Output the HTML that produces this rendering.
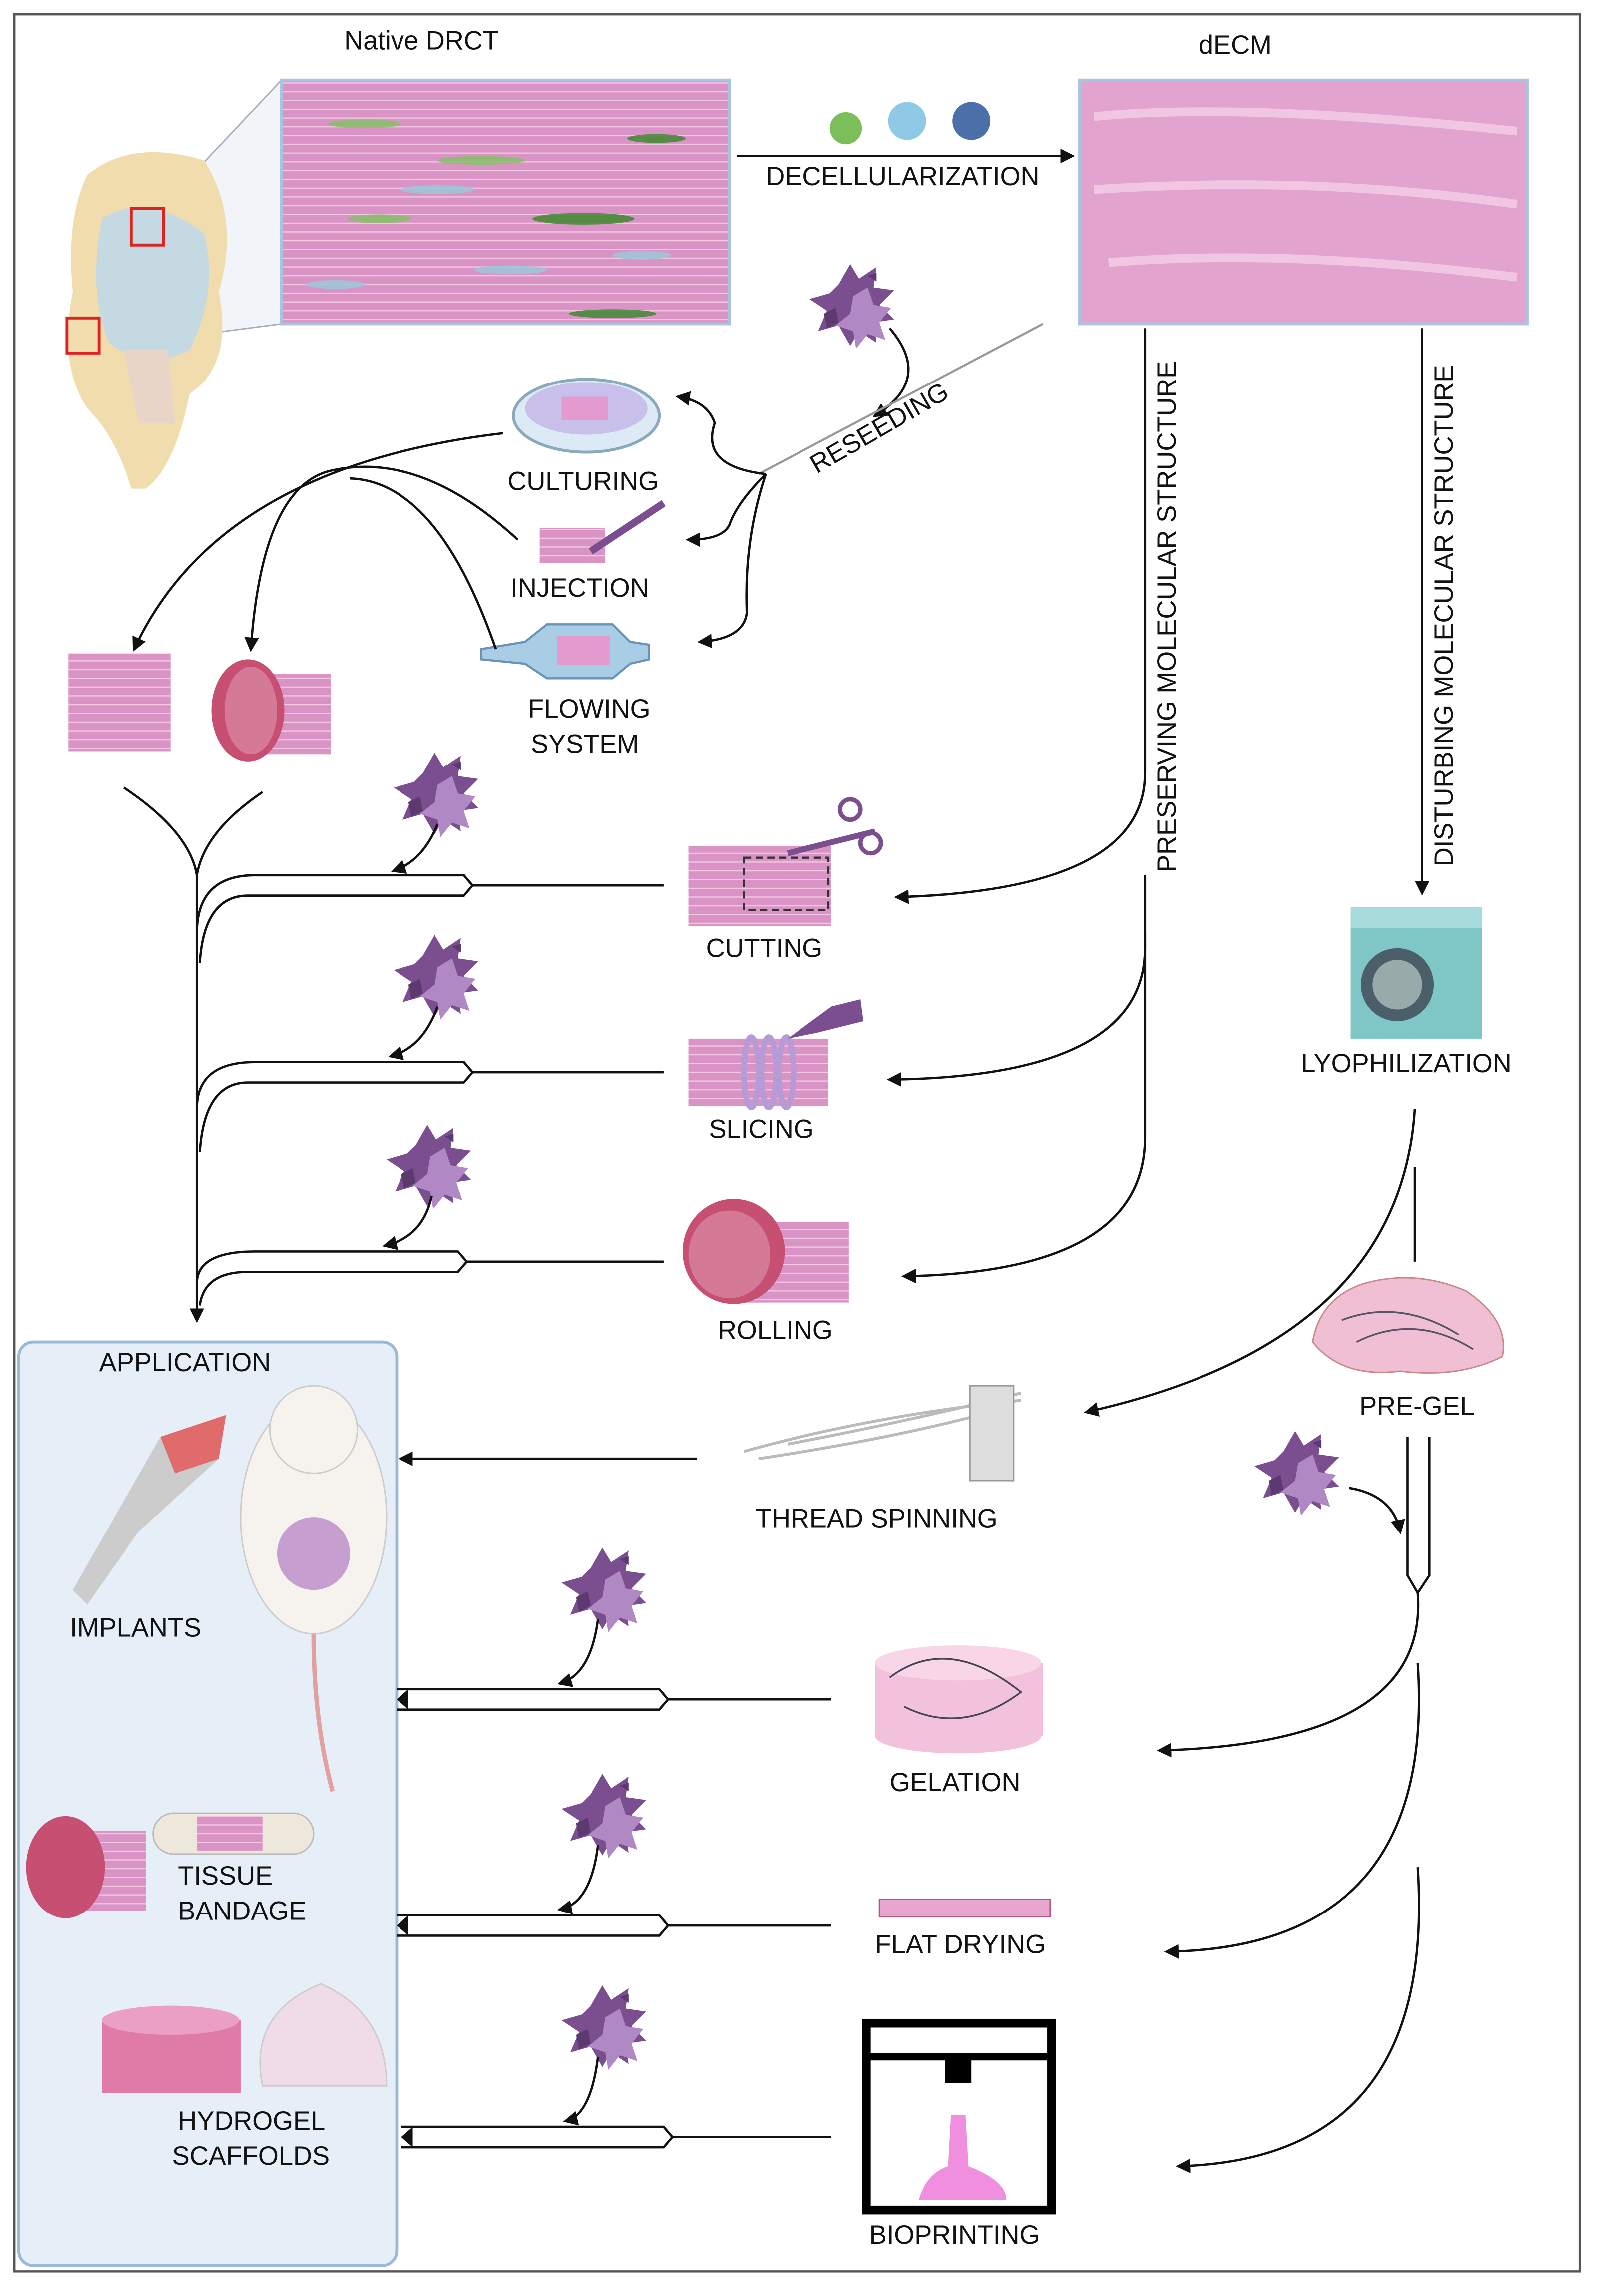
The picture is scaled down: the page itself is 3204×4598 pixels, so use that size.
<!DOCTYPE html>
<html><head><meta charset="utf-8"><style>
html,body{margin:0;padding:0;background:#fff;}
svg{display:block;}
text{font-family:"Liberation Sans",Arial,sans-serif;fill:#111;}
</style></head><body>
<svg width="3204" height="4598" viewBox="0 0 1097 1574" preserveAspectRatio="none" xmlns="http://www.w3.org/2000/svg">
<defs>
<marker id="ah" markerWidth="10" markerHeight="10" refX="8" refY="5" orient="auto" markerUnits="userSpaceOnUse"><path d="M0,0 L10,5 L0,10 z" fill="#111"/></marker>
<g id="cells">
<path d="M0,0 l8,-14 l6,10 l12,-8 l-2,14 l14,2 l-10,10 l10,10 l-14,2 l2,14 l-12,-8 l-6,10 l-8,-14 l-14,4 l6,-14 l-12,-8 l14,-4z" fill="#7a4e8f"/>
<path d="M10,8 l10,-6 l4,12 l12,2 l-8,10 l4,12 l-12,-4 l-8,10 l-2,-12 l-12,-4 l10,-8z" fill="#b088c4"/>
<path d="M-10,20 l8,-4 l2,10 l-8,4z M20,-6 l6,-2 l0,6z" fill="#5c3a70"/>
</g>
<g id="pen">
<path d="M0,0 H180 L186,7 L180,14 H0" fill="none" stroke="#111" stroke-width="1.6"/>
</g>
<pattern id="fib" width="40" height="6" patternUnits="userSpaceOnUse"><rect width="40" height="6" fill="#d993c4"/><line x1="0" y1="3" x2="40" y2="3" stroke="#f2c8e3" stroke-width="0.8"/></pattern>
</defs>

<rect x="10" y="10" width="1073" height="1547" fill="#fff" stroke="#555" stroke-width="1.5"/>

<!-- Top -->
<text x="236" y="34" font-size="18">Native DRCT</text>
<text x="822" y="37" font-size="18">dECM</text>
<polygon points="110,143 193,55 193,222 56,240" fill="#eef2f8" opacity="0.8"/>
<line x1="110" y1="143" x2="193" y2="55" stroke="#aab" stroke-width="1"/>
<line x1="56" y1="240" x2="193" y2="222" stroke="#aab" stroke-width="1"/>
<!-- knee -->
<path d="M60,120 Q90,95 140,110 Q165,150 150,200 Q160,250 130,270 Q120,320 100,335 L90,335 Q80,300 60,280 Q40,250 50,200 Q45,150 60,120z" fill="#f1dcae"/>
<path d="M70,150 Q100,130 140,160 Q150,200 130,240 Q100,255 75,235 Q60,200 70,150z" fill="#bcd8ea" opacity="0.85"/>
<path d="M85,240 L95,290 L120,290 L115,240z" fill="#e8d5c8"/>
<rect x="90" y="143" width="22" height="25" fill="none" stroke="#d22" stroke-width="2"/>
<rect x="46" y="218" width="22" height="24" fill="none" stroke="#d22" stroke-width="2"/>
<!-- native tissue -->
<rect x="193" y="55" width="307" height="167" fill="url(#fib)" stroke="#a9c4e0" stroke-width="2"/>
<g fill="#86c06a" opacity="0.85">
<ellipse cx="250" cy="85" rx="25" ry="3"/><ellipse cx="330" cy="110" rx="30" ry="3"/><ellipse cx="400" cy="150" rx="35" ry="4" fill="#3d8a2f"/><ellipse cx="260" cy="150" rx="22" ry="3"/><ellipse cx="420" cy="215" rx="30" ry="3" fill="#3d8a2f"/><ellipse cx="450" cy="95" rx="20" ry="3" fill="#3d8a2f"/></g>
<g fill="#9fc4d8" opacity="0.9"><ellipse cx="300" cy="130" rx="25" ry="3"/><ellipse cx="350" cy="185" rx="25" ry="3"/><ellipse cx="230" cy="195" rx="20" ry="3"/><ellipse cx="440" cy="175" rx="20" ry="3"/></g>
<!-- decell arrow -->
<line x1="505" y1="107" x2="735" y2="107" stroke="#111" stroke-width="1.6" marker-end="url(#ah)"/>
<text x="525" y="127" font-size="18">DECELLULARIZATION</text>
<circle cx="580" cy="88" r="11" fill="#7cbf5a"/><circle cx="622" cy="83" r="13" fill="#8ec9e6"/><circle cx="666" cy="83" r="13" fill="#4b6fa8"/>
<!-- dECM -->
<rect x="740" y="55" width="307" height="167" fill="#e3a3cf" stroke="#a9c4e0" stroke-width="2"/>
<path d="M750,80 Q850,70 1040,90 M750,130 Q900,120 1040,140 M760,180 Q880,170 1040,190" stroke="#f1c6e2" stroke-width="6" fill="none"/>
<!-- reseeding -->
<use href="#cells" x="575" y="195"/>
<path d="M610,225 Q640,260 600,285" fill="none" stroke="#111" stroke-width="1.6" marker-end="url(#ah)"/>
<line x1="715" y1="222" x2="520" y2="325" stroke="#999" stroke-width="1.5"/>
<text x="560" y="325" font-size="18" transform="rotate(-30 560 325)">RESEEDING</text>
<path d="M525,325 Q480,320 490,290 Q485,275 465,272" fill="none" stroke="#111" stroke-width="1.6" marker-end="url(#ah)"/>
<path d="M525,325 Q505,345 500,360 Q495,370 472,370" fill="none" stroke="#111" stroke-width="1.6" marker-end="url(#ah)"/>
<path d="M525,325 Q510,370 512,420 Q510,438 480,440" fill="none" stroke="#111" stroke-width="1.6" marker-end="url(#ah)"/>
<!-- culturing -->
<ellipse cx="402" cy="285" rx="50" ry="25" fill="#dbeaf5" stroke="#8ab" stroke-width="2"/>
<ellipse cx="402" cy="280" rx="42" ry="18" fill="#c8c0ea"/>
<rect x="385" y="272" width="32" height="16" fill="#e39bcf"/>
<text x="348" y="336" font-size="18">CULTURING</text>
<rect x="370" y="362" width="45" height="24" fill="url(#fib)"/>
<line x1="405" y1="378" x2="455" y2="345" stroke="#7a4e8f" stroke-width="5"/>
<text x="350" y="409" font-size="18">INJECTION</text>
<path d="M330,445 L360,440 L375,428 L420,428 L432,440 L445,442 L445,452 L432,455 L420,465 L375,465 L360,455 L330,452z" fill="#a9cde4" stroke="#6a93b8" stroke-width="1.5"/>
<rect x="382" y="436" width="36" height="20" fill="#e39bcf"/>
<text x="362" y="492" font-size="18">FLOWING</text>
<text x="364" y="516" font-size="18">SYSTEM</text>
<!-- culturing curves -->
<path d="M345,297 Q150,320 92,445" fill="none" stroke="#111" stroke-width="1.6" marker-end="url(#ah)"/>
<path d="M355,370 Q290,310 230,322 Q180,330 172,445" fill="none" stroke="#111" stroke-width="1.6" marker-end="url(#ah)"/>
<path d="M340,445 Q300,330 240,328" fill="none" stroke="#111" stroke-width="1.6"/>
<rect x="47" y="448" width="70" height="67" fill="url(#fib)"/>
<rect x="170" y="462" width="57" height="55" fill="url(#fib)"/>
<ellipse cx="170" cy="487" rx="25" ry="35" fill="#c74f72"/>
<ellipse cx="172" cy="487" rx="18" ry="30" fill="#d47a96"/>
<!-- trunk -->
<path d="M85,540 Q130,570 135,600 Q140,570 180,543" fill="none" stroke="#111" stroke-width="1.6"/>
<line x1="135" y1="595" x2="135" y2="905" stroke="#111" stroke-width="1.6" marker-end="url(#ah)"/>
<!-- fork 1 -->
<path d="M135,640 Q135,600 175,600 H318 L324,607 L318,614 H170 Q140,614 137,660" fill="none" stroke="#111" stroke-width="1.6"/>
<line x1="324" y1="607" x2="455" y2="607" stroke="#111" stroke-width="1.6"/>
<use href="#cells" x="290" y="530"/>
<path d="M300,565 Q290,590 270,597" fill="none" stroke="#111" stroke-width="1.6" marker-end="url(#ah)"/>
<path d="M135,760 Q135,728 175,728 H318 L324,735 L318,742 H170 Q140,742 137,790" fill="none" stroke="#111" stroke-width="1.6"/>
<line x1="324" y1="735" x2="455" y2="735" stroke="#111" stroke-width="1.6"/>
<use href="#cells" x="290" y="655"/>
<path d="M300,690 Q290,718 268,724" fill="none" stroke="#111" stroke-width="1.6" marker-end="url(#ah)"/>
<path d="M135,880 Q135,858 175,858 H314 L320,865 L314,872 H170 Q140,872 137,895" fill="none" stroke="#111" stroke-width="1.6"/>
<line x1="320" y1="865" x2="455" y2="865" stroke="#111" stroke-width="1.6"/>
<use href="#cells" x="285" y="785"/>
<path d="M296,820 Q290,848 264,854" fill="none" stroke="#111" stroke-width="1.6" marker-end="url(#ah)"/>
<!-- cutting slicing rolling -->
<rect x="472" y="580" width="98" height="55" fill="url(#fib)"/>
<rect x="510" y="588" width="58" height="36" fill="none" stroke="#333" stroke-width="1.5" stroke-dasharray="5,3"/>
<line x1="540" y1="585" x2="600" y2="570" stroke="#7a4e8f" stroke-width="4"/>
<circle cx="583" cy="555" r="7" fill="none" stroke="#7a4e8f" stroke-width="3"/><circle cx="597" cy="578" r="7" fill="none" stroke="#7a4e8f" stroke-width="3"/>
<text x="484" y="656" font-size="18">CUTTING</text>
<rect x="472" y="712" width="96" height="46" fill="url(#fib)"/>
<g fill="none" stroke="#b79bd6" stroke-width="4"><ellipse cx="515" cy="735" rx="5" ry="24"/><ellipse cx="527" cy="735" rx="5" ry="24"/><ellipse cx="539" cy="735" rx="5" ry="24"/></g>
<path d="M540,712 L570,690 L590,685 L592,700 L560,708z" fill="#7a4e8f"/>
<text x="486" y="780" font-size="18">SLICING</text>
<rect x="505" y="838" width="77" height="55" fill="url(#fib)"/>
<ellipse cx="503" cy="858" rx="35" ry="36" fill="#c74f72"/>
<ellipse cx="500" cy="860" rx="28" ry="30" fill="#d47a96"/>
<text x="492" y="918" font-size="18">ROLLING</text>
<!-- preserving -->
<path d="M785,225 V530 Q785,610 615,615" fill="none" stroke="#111" stroke-width="1.6" marker-end="url(#ah)"/>
<path d="M785,600 V650 Q785,738 610,740" fill="none" stroke="#111" stroke-width="1.6" marker-end="url(#ah)"/>
<path d="M785,640 V780 Q785,872 620,875" fill="none" stroke="#111" stroke-width="1.6" marker-end="url(#ah)"/>
<text x="0" y="0" font-size="18" transform="translate(806 598) rotate(-90)">PRESERVING MOLECULAR STRUCTURE</text>
<line x1="975" y1="225" x2="975" y2="612" stroke="#111" stroke-width="1.6" marker-end="url(#ah)"/>
<text x="0" y="0" font-size="18" transform="translate(996 594) rotate(-90)">DISTURBING MOLECULAR STRUCTURE</text>
<rect x="926" y="622" width="90" height="90" fill="#7fc6c6"/>
<rect x="926" y="622" width="90" height="14" fill="#a8dcdc"/>
<circle cx="958" cy="675" r="25" fill="#4b5f6b"/><circle cx="958" cy="675" r="17" fill="#9aa"/>
<text x="892" y="735" font-size="18">LYOPHILIZATION</text>
<path d="M970,760 Q960,920 745,968" fill="none" stroke="#111" stroke-width="1.6" marker-end="url(#ah)"/>
<line x1="970" y1="800" x2="970" y2="865" stroke="#111" stroke-width="1.6"/>
<path d="M900,920 Q905,890 935,880 Q970,870 1005,885 Q1035,905 1030,930 Q1000,945 960,940 Q920,945 900,920z" fill="#f0bfd4" stroke="#c88" stroke-width="1"/>
<path d="M920,905 Q960,890 1000,915 M930,920 Q970,900 1010,925" fill="none" stroke="#556" stroke-width="1.2"/>
<text x="932" y="970" font-size="18">PRE-GEL</text>
<path d="M965,985 V1080 L972,1092 L980,1080 V985" fill="none" stroke="#111" stroke-width="1.6"/>
<use href="#cells" x="880" y="995"/>
<path d="M925,1020 Q955,1025 960,1050" fill="none" stroke="#111" stroke-width="1.6" marker-end="url(#ah)"/>
<path d="M972,1092 Q980,1195 795,1200" fill="none" stroke="#111" stroke-width="1.6" marker-end="url(#ah)"/>
<path d="M972,1140 Q985,1335 800,1338" fill="none" stroke="#111" stroke-width="1.6" marker-end="url(#ah)"/>
<path d="M972,1280 Q985,1480 808,1485" fill="none" stroke="#111" stroke-width="1.6" marker-end="url(#ah)"/>
<!-- thread spinning -->
<path d="M510,995 Q600,970 700,960 M520,1000 Q620,985 690,965 M540,990 Q620,975 700,955" stroke="#bbb" stroke-width="2" fill="none"/>
<rect x="665" y="950" width="30" height="65" fill="#ddd" stroke="#999"/>
<text x="518" y="1047" font-size="18">THREAD SPINNING</text>
<line x1="478" y1="1000" x2="275" y2="1000" stroke="#111" stroke-width="1.6" marker-end="url(#ah)"/>
<!-- application -->
<rect x="13" y="920" width="259" height="633" rx="10" fill="#e6eef8" stroke="#9bb8d8" stroke-width="2"/>
<text x="68" y="940" font-size="18">APPLICATION</text>
<path d="M50,1090 L110,985 L155,970 L150,1000 L95,1050 L60,1100z" fill="#ccc"/>
<path d="M110,985 L155,970 L150,1000 L120,1010z" fill="#e06b6b"/>
<ellipse cx="215" cy="1040" rx="50" ry="80" fill="#f6f2ee" stroke="#ccc"/>
<ellipse cx="215" cy="980" rx="30" ry="30" fill="#f6f2ee" stroke="#ccc"/>
<circle cx="215" cy="1065" r="25" fill="#c79ed0"/>
<path d="M215,1120 Q215,1180 228,1228" stroke="#e2a0a0" stroke-width="3" fill="none"/>
<text x="48" y="1122" font-size="18">IMPLANTS</text>
<rect x="50" y="1255" width="50" height="55" fill="url(#fib)"/>
<ellipse cx="45" cy="1280" rx="27" ry="35" fill="#c74f72"/>
<rect x="105" y="1243" width="110" height="28" rx="14" fill="#ede7dc" stroke="#bbb"/>
<rect x="135" y="1245" width="45" height="24" fill="url(#fib)"/>
<text x="122" y="1292" font-size="18">TISSUE</text>
<text x="122" y="1316" font-size="18">BANDAGE</text>
<rect x="70" y="1385" width="95" height="50" fill="#e07ba8"/>
<ellipse cx="117" cy="1385" rx="47" ry="10" fill="#ec9fc4"/>
<path d="M180,1430 Q170,1380 220,1360 Q265,1380 265,1430z" fill="#f0dce8" stroke="#ccc"/>
<text x="122" y="1460" font-size="18">HYDROGEL</text>
<text x="118" y="1484" font-size="18">SCAFFOLDS</text>
<!-- bottom pens -->
<g transform="translate(272 1158)"><use href="#pen"/></g>
<line x1="458" y1="1165" x2="570" y2="1165" stroke="#111" stroke-width="1.6"/>
<use href="#cells" x="405" y="1075"/>
<path d="M410,1110 Q405,1148 384,1154" fill="none" stroke="#111" stroke-width="1.6" marker-end="url(#ah)"/>
<g transform="translate(272 1313)"><use href="#pen"/></g>
<line x1="458" y1="1320" x2="570" y2="1320" stroke="#111" stroke-width="1.6"/>
<use href="#cells" x="405" y="1230"/>
<path d="M410,1265 Q405,1305 384,1309" fill="none" stroke="#111" stroke-width="1.6" marker-end="url(#ah)"/>
<g transform="translate(275 1458)"><use href="#pen"/></g>
<line x1="461" y1="1465" x2="570" y2="1465" stroke="#111" stroke-width="1.6"/>
<use href="#cells" x="405" y="1375"/>
<path d="M410,1410 Q405,1450 388,1454" fill="none" stroke="#111" stroke-width="1.6" marker-end="url(#ah)"/>
<polygon points="280,1158 272,1165 280,1172" fill="#111"/>
<polygon points="280,1313 272,1320 280,1327" fill="#111"/>
<polygon points="283,1458 275,1465 283,1472" fill="#111"/>
<!-- gelation etc -->
<rect x="600" y="1140" width="115" height="50" fill="#f2c2dd"/>
<ellipse cx="657" cy="1190" rx="57" ry="12" fill="#f2c2dd"/>
<ellipse cx="657" cy="1140" rx="57" ry="12" fill="#f8d6e8"/>
<path d="M610,1150 Q650,1120 700,1160 Q660,1190 620,1170" fill="none" stroke="#445" stroke-width="1.2"/>
<text x="610" y="1228" font-size="18">GELATION</text>
<rect x="603" y="1302" width="117" height="12" fill="#e8a6cf" stroke="#b57"/>
<text x="600" y="1339" font-size="18">FLAT DRYING</text>
<rect x="594" y="1387" width="127" height="128" fill="#fff" stroke="#000" stroke-width="6"/>
<line x1="594" y1="1410" x2="721" y2="1410" stroke="#000" stroke-width="5"/>
<rect x="648" y="1410" width="18" height="18" fill="#000"/>
<path d="M630,1508 Q635,1490 650,1485 L652,1450 L662,1450 L664,1485 Q690,1495 690,1508z" fill="#f08fe0"/>
<text x="596" y="1538" font-size="18">BIOPRINTING</text>
</svg>
</body></html>
